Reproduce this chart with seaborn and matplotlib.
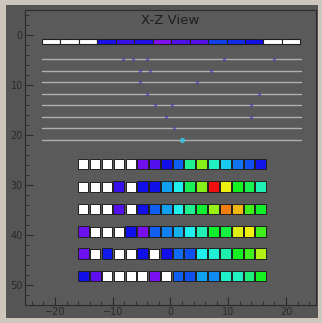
import matplotlib
matplotlib.use("Agg")
import matplotlib.pyplot as plt
from matplotlib.colors import LinearSegmentedColormap
from matplotlib.patches import Rectangle
import seaborn as sns
import numpy as np
import pandas as pd

# top strip: 14 segments, None = empty (white)
strip_left = [-22.3, -19.1, -15.9, -12.7, -9.5, -6.3, -3.1, 0.1, 3.3, 6.5, 9.7, 12.9, 16.1, 19.3]
strip_vals = [None, None, None, 0.14, 0.10, 0.13, 0.0, 0.07, 0.06, 0.24, 0.20, 0.15, None, None]
strip_y = 1.2

# thin grey layers and the faint hits on them
layer_y = [4.8, 7.1, 9.4, 11.7, 14.0, 16.3, 18.6, 20.9]
hit_x = [-8.3, -6.5, -4.0, 9.3, 18.0, -5.2, -3.5, 7.0, -5.2, 4.6, -4.0, 15.4, -2.6, 0.3, 13.9, -0.8, 14.0, 0.6, 2.0]
hit_y = [4.8, 4.8, 4.8, 4.8, 4.8, 7.1, 7.1, 7.1, 9.4, 9.4, 11.7, 11.7, 14.0, 14.0, 14.0, 16.3, 16.3, 18.6, 20.9]

# pad rows: 6 rows x 16 pads
pad_x = [-15.1, -13.05, -11.0, -8.95, -6.9, -4.85, -2.8, -0.75, 1.3, 3.35, 5.4, 7.45, 9.5, 11.55, 13.6, 15.65]
row_y = [25.8, 30.3, 34.8, 39.3, 43.7, 48.2]
W = None
pad_vals = [
    [W, W, W, W, W, 0.02, 0.06, 0.15, 0.30, 0.60, 0.75, 0.55, 0.45, 0.33, 0.27, 0.16],
    [W, W, W, 0.10, W, 0.15, 0.15, 0.40, 0.50, 0.65, 0.75, 1.00, 0.80, 0.70, 0.66, 0.56],
    [W, W, W, 0.06, W, 0.15, 0.30, 0.40, 0.50, 0.60, 0.68, 0.76, 0.90, 0.85, 0.72, 0.69],
    [0.03, W, W, W, 0.15, 0.01, 0.30, 0.35, 0.42, 0.50, 0.56, 0.69, 0.67, 0.79, 0.80, 0.72],
    [0.03, W, 0.17, W, W, 0.15, W, 0.15, 0.32, 0.27, 0.50, 0.53, 0.57, 0.70, 0.72, 0.77],
    [0.15, 0.05, W, W, W, W, 0.01, W, 0.30, 0.27, 0.40, 0.37, 0.54, 0.55, 0.62, 0.70],
]

palette = LinearSegmentedColormap.from_list("root_like", [
    (0.0, "#8010f0"), (0.15, "#1010e8"), (0.3, "#1060f0"), (0.4, "#10a0f0"),
    (0.5, "#20f0f0"), (0.6, "#20f090"), (0.7, "#10f020"), (0.8, "#f0f010"),
    (0.9, "#f08010"), (1.0, "#f01010")])

sns.set_theme(style="ticks")
plt.rcParams['font.family'] = ['DejaVu Sans']

fig = plt.figure(figsize=(3.22, 3.23), dpi=100, facecolor="#cdc6bd")
fig.patches.append(Rectangle((6/322, 5/323), 312/322, 313/323, transform=fig.transFigure,
                             facecolor="#555555", edgecolor="none", zorder=-10))
ax = fig.add_axes([25/322, 18/323, 291/322, 295/323])
ax.set_facecolor("#5a5a5a")

# top strip
for left, v in zip(strip_left, strip_vals):
    c = "white" if v is None else palette(v)
    ax.barh(strip_y, 3.2, height=1.0, left=left, color=c, edgecolor="#202020", linewidth=0.8, zorder=3)

# grey layers
for y in layer_y:
    ax.plot([-22.3, 22.6], [y, y], color="#b0b0b0", lw=1.0, zorder=2)
hits = pd.DataFrame({"x": hit_x, "y": hit_y})
sns.scatterplot(data=hits, x="x", y="y", ax=ax, color="#3a2ec0", s=6, alpha=0.55,
                linewidth=0, zorder=4, legend=False)
ax.scatter([2.0], [20.9], color="#40c8e0", s=8, alpha=0.8, zorder=5)

# pads
rows = []
for y, vals in zip(row_y, pad_vals):
    for x, v in zip(pad_x, vals):
        rows.append({"x": x, "y": y, "v": v})
pads = pd.DataFrame(rows)
empty = pads[pads["v"].isna()]
filled = pads[pads["v"].notna()]
sns.scatterplot(data=empty, x="x", y="y", ax=ax, color="white", marker="s", s=62,
                edgecolor="#202020", linewidth=0.7, zorder=3, legend=False)
sns.scatterplot(data=filled, x="x", y="y", hue="v", palette=palette, hue_norm=(0, 1),
                ax=ax, marker="s", s=62, edgecolor="#202020", linewidth=0.7, zorder=3, legend=False)

ax.set_xlim(-25.2, 25.2)
ax.set_ylim(54, -5)
ax.set_xticks([-20, -10, 0, 10, 20])
ax.set_yticks([0, 10, 20, 30, 40, 50])
ax.set_xticks(np.arange(-24, 25, 2), minor=True)
ax.set_yticks(np.arange(-4, 54, 2), minor=True)
ax.tick_params(which="both", direction="in", color="#2a2a2a", labelsize=7, labelcolor="#2a2a2a", pad=1.5)
ax.tick_params(which="major", length=6, width=0.8)
ax.tick_params(which="minor", length=3, width=0.6)
ax.set_xlabel("")
ax.set_ylabel("")
for s in ax.spines.values():
    s.set_color("#2a2a2a")
    s.set_linewidth(0.8)
ax.text(0.5, 0.985, "X-Z View", transform=ax.transAxes, ha="center", va="top",
        fontsize=9.5, color="#1e1e1e")

fig.savefig("out.png", dpi=100, facecolor=fig.get_facecolor())
